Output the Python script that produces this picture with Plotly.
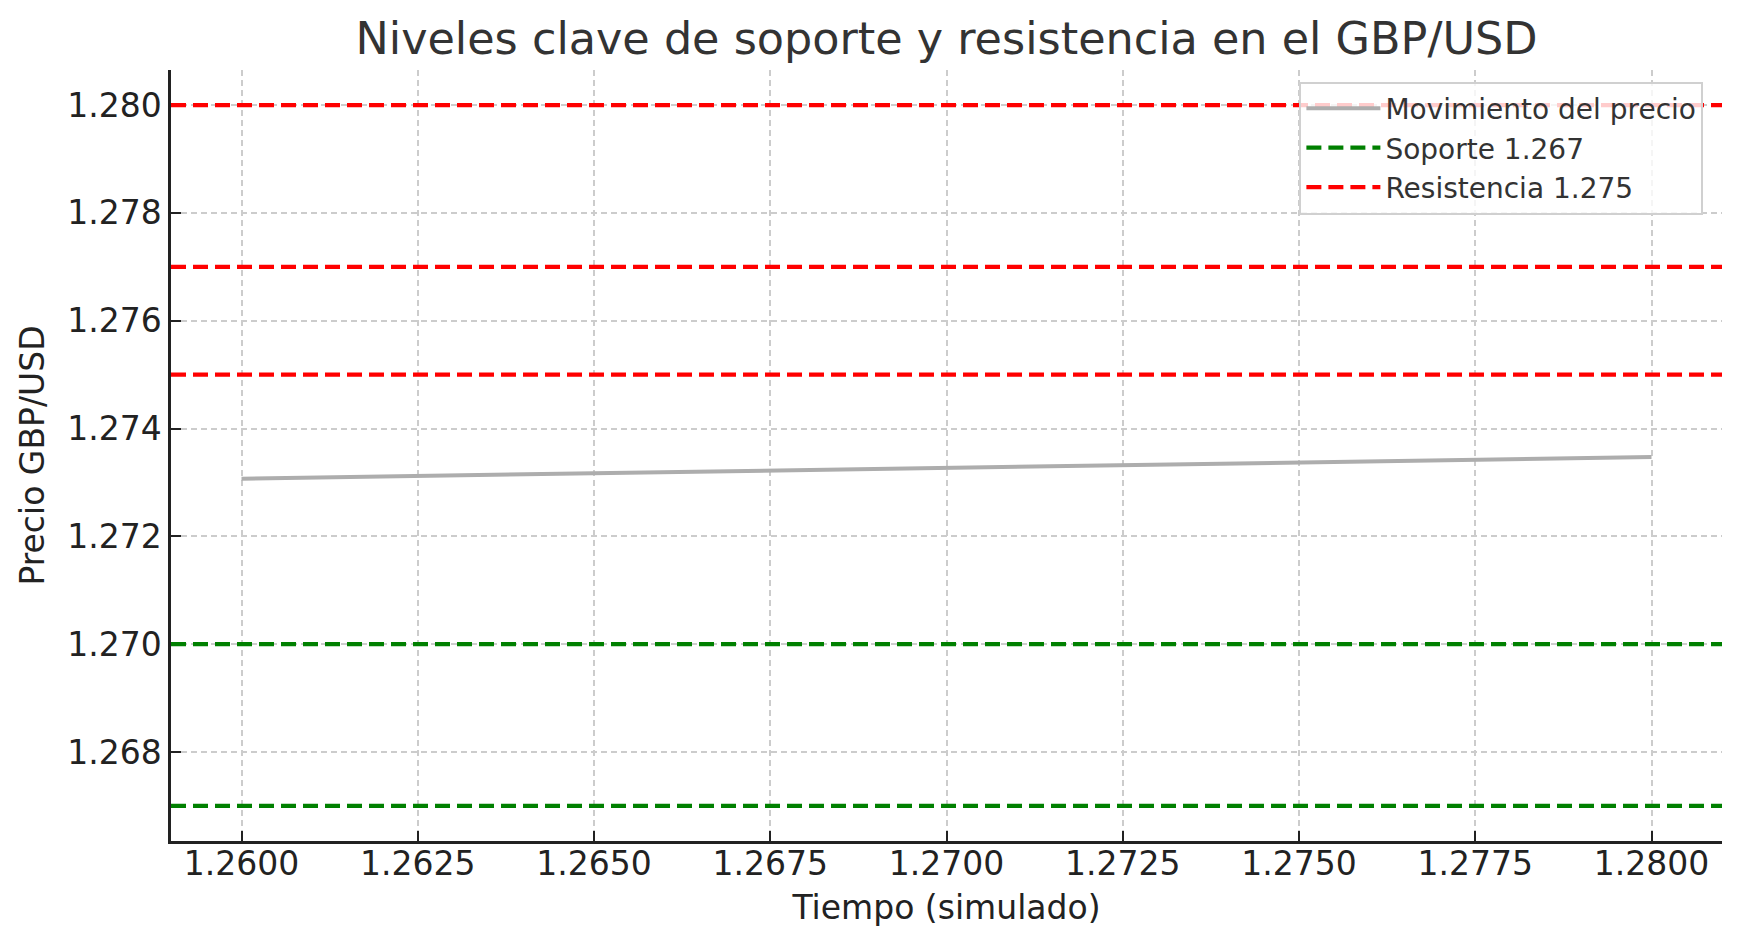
import plotly.graph_objects as go

# Datos
tiempo = [1.2600, 1.2700, 1.2800]
precio = [1.27307, 1.27327, 1.27347]

soportes = [1.267, 1.270]
resistencias = [1.275, 1.277, 1.280]

fuente = "DejaVu Sans"

fig = go.Figure()

fig.add_trace(go.Scatter(
    x=tiempo, y=precio, mode="lines",
    line=dict(color="#adadad", width=4),
    name="Movimiento del precio",
))

# Lineas horizontales (soportes en verde, resistencias en rojo)
for i, s in enumerate(soportes):
    fig.add_shape(
        type="line", xref="x domain", x0=0, x1=1, yref="y", y0=s, y1=s,
        line=dict(color="#008000", width=4.2, dash="15px,7px"),
        name=f"Soporte {s}", showlegend=(i == 0), legendrank=1001,
    )
for i, r in enumerate(resistencias):
    fig.add_shape(
        type="line", xref="x domain", x0=0, x1=1, yref="y", y0=r, y1=r,
        line=dict(color="#ff0000", width=4.2, dash="15px,7px"),
        name=f"Resistencia {r}", showlegend=(i == 0), legendrank=1002,
    )

fig.update_layout(
    width=1739, height=947,
    margin=dict(l=163, r=25, t=62, b=114),
    paper_bgcolor="white", plot_bgcolor="white",
    font=dict(family=fuente, size=33, color="#222222"),
    title=dict(
        text="Niveles clave de soporte y resistencia en el GBP/USD",
        font=dict(size=44.5, color="#333333"),
        x=0.5, xref="paper", xanchor="center",
        y=1 - 30 / 947, yref="container", yanchor="middle",
    ),
    legend=dict(
        x=0.988, y=0.985, xanchor="right", yanchor="top",
        bgcolor="rgba(255,255,255,0.8)", bordercolor="#d0d0d0", borderwidth=2,
        font=dict(size=28, color="#333333"),
        itemwidth=74, tracegroupgap=0,
    ),
    showlegend=True,
)

fig.update_xaxes(
    range=[1.259, 1.281], tick0=1.26, dtick=0.0025, tickformat=".4f",
    title=dict(text="Tiempo (simulado)", standoff=14, font=dict(size=33)),
    showline=True, linecolor="#222222", linewidth=2.5, mirror=False,
    ticks="inside", ticklen=10, tickwidth=2, tickcolor="#222222",
    ticklabelstandoff=-8,
    showgrid=True, gridcolor="#cccccc", gridwidth=1.5, griddash="6px,4px",
    zeroline=False,
)
fig.update_yaxes(
    range=[1.26635, 1.28065], tick0=1.268, dtick=0.002, tickformat=".3f",
    title=dict(text="Precio GBP/USD", standoff=13, font=dict(size=33)),
    showline=True, linecolor="#222222", linewidth=2.5, mirror=False,
    ticks="inside", ticklen=10, tickwidth=2, tickcolor="#222222",
    showgrid=True, gridcolor="#cccccc", gridwidth=1.5, griddash="6px,4px",
    zeroline=False,
)

fig.write_html("out.html")
